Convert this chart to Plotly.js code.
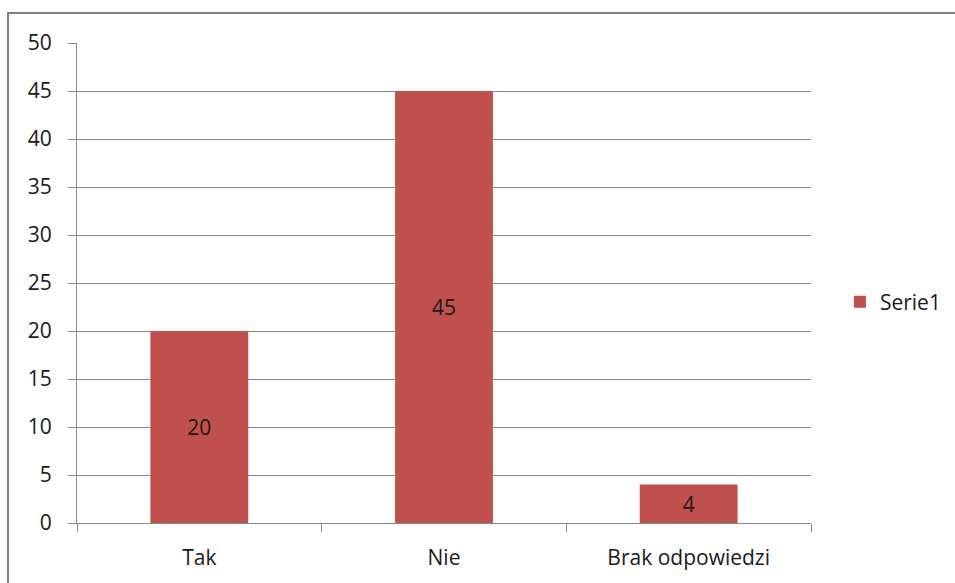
<!DOCTYPE html>
<html>
<head>
<meta charset="utf-8">
<script src="https://cdn.plot.ly/plotly-3.0.1.min.js"></script>
<style>html,body{margin:0;padding:0;background:#fff;}#chart{width:955px;height:583px;}</style>
</head>
<body>
<div id="chart"></div>
<script>
const categories = ["Tak", "Nie", "Brak odpowiedzi"];
const values = [20, 45, 4];
const seriesName = "Serie1";
const yTicks = [0, 5, 10, 15, 20, 25, 30, 35, 40, 45, 50];

const font = "'Open Sans', Lato, 'DejaVu Sans', sans-serif";
const txt = "#1a1a1a";
const trace = {
  type: "bar",
  x: categories,
  y: values,
  name: seriesName,
  marker: {color: "#C0504D"},
  text: values.map(String),
  textposition: "inside",
  insidetextanchor: "middle",
  constraintext: "none",
  textfont: {family: font, size: 21, color: txt},
  hoverinfo: "skip"
};
const layout = {
  width: 955, height: 583,
  margin: {l: 77, r: 144, t: 43, b: 60, autoexpand: false},
  paper_bgcolor: "#fff", plot_bgcolor: "#fff",
  bargap: 0.6,
  showlegend: true,
  legend: {xref: "container", yref: "container", x: 0.8795, y: 0.482, xanchor: "left", yanchor: "middle",
           font: {family: font, size: 21, color: txt}, itemwidth: 20},
  font: {family: font, size: 21, color: txt},
  xaxis: {
    type: "category", automargin: false,
    showline: true, linecolor: "#888", linewidth: 1,
    ticks: "outside", tickson: "boundaries", ticklen: 8, tickcolor: "#888",
    showgrid: false, tickfont: {family: font, size: 21, color: txt},
    ticklabelstandoff: 16
  },
  yaxis: {
    range: [0, 50], tickvals: yTicks, ticktext: yTicks.map(String), automargin: false,
    showline: true, linecolor: "#888", linewidth: 1,
    ticks: "outside", ticklen: 8, tickcolor: "#888",
    showgrid: true, gridcolor: "#888", gridwidth: 1, zeroline: false,
    tickfont: {family: font, size: 21, color: txt},
    ticklabelstandoff: 12
  },
  shapes: [{
    type: "rect", xref: "paper", yref: "paper",
    x0: (8 - 77) / 734, x1: (970 - 77) / 734,
    y0: (523 - 600) / 480, y1: (523 - 13) / 480,
    line: {color: "#808080", width: 2}, fillcolor: "rgba(0,0,0,0)", layer: "below"
  }]
};
Plotly.newPlot("chart", [trace], layout, {displayModeBar: false, staticPlot: true});
</script>
</body>
</html>
